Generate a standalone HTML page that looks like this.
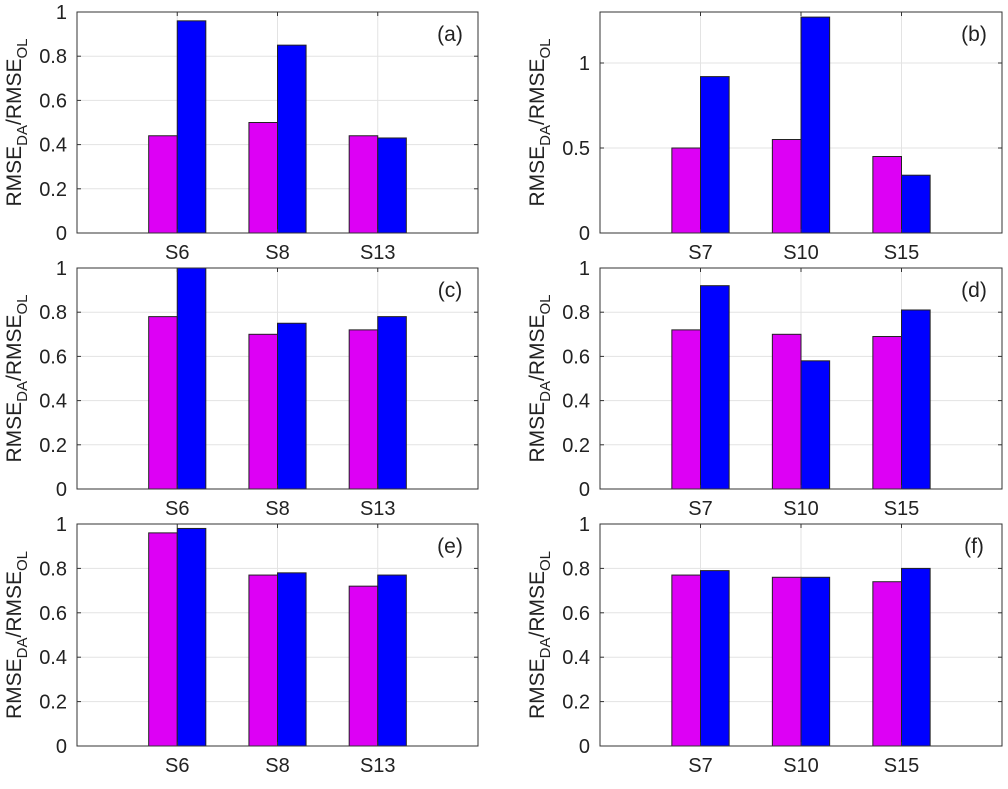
<!DOCTYPE html>
<html><head><meta charset="utf-8"><style>
html,body{margin:0;padding:0;background:#fff;}
svg text{font-family:"Liberation Sans",Arial,sans-serif;fill:#222;}
</style></head><body>
<svg id="fig" width="1008" height="784" xmlns="http://www.w3.org/2000/svg"></svg>
<script>
const catsLeft = ["S6","S8","S13"];
const catsRight = ["S7","S10","S15"];
const magA = [0.44,0.50,0.44], bluA = [0.96,0.85,0.43];
const magB = [0.50,0.55,0.45], bluB = [0.92,1.27,0.34];
const magC = [0.78,0.70,0.72], bluC = [1.00,0.75,0.78];
const magD = [0.72,0.70,0.69], bluD = [0.92,0.58,0.81];
const magE = [0.96,0.77,0.72], bluE = [0.98,0.78,0.77];
const magF = [0.77,0.76,0.74], bluF = [0.79,0.76,0.80];
const ticks1 = [0,0.2,0.4,0.6,0.8,1];
const ticksB = [0,0.5,1];
const tickLabels1 = ["0","0.2","0.4","0.6","0.8","1"];
const tickLabelsB = ["0","0.5","1"];

const NS="http://www.w3.org/2000/svg";
const svg=document.getElementById('fig');
function mk(tag,attrs,parent){const e=document.createElementNS(NS,tag);for(const k in attrs)e.setAttribute(k,attrs[k]);(parent||svg).appendChild(e);return e;}

const panels=[
 {id:'a',L:77,R:478,T:12,B:233,cats:catsLeft,m:magA,b:bluA,ymax:1,ticks:ticks1,tl:tickLabels1,lblX:30},
 {id:'b',L:600,R:1002,T:12,B:233,cats:catsRight,m:magB,b:bluB,ymax:1.3,ticks:ticksB,tl:tickLabelsB,lblX:553},
 {id:'c',L:77,R:478,T:268,B:489,cats:catsLeft,m:magC,b:bluC,ymax:1,ticks:ticks1,tl:tickLabels1,lblX:30},
 {id:'d',L:600,R:1002,T:268,B:489,cats:catsRight,m:magD,b:bluD,ymax:1,ticks:ticks1,tl:tickLabels1,lblX:553},
 {id:'e',L:77,R:478,T:524,B:746,cats:catsLeft,m:magE,b:bluE,ymax:1,ticks:ticks1,tl:tickLabels1,lblX:30},
 {id:'f',L:600,R:1002,T:524,B:746,cats:catsRight,m:magF,b:bluF,ymax:1,ticks:ticks1,tl:tickLabels1,lblX:553}
];

panels.forEach(p=>{
  const g=mk('g',{});
  
  
  const xs=v=>p.L+(p.R-p.L)*v/4;
  const ys=v=>p.B-(p.B-p.T)*v/p.ymax;
  p.ticks.forEach((t,i)=>{
    const y=ys(t);
    const gl=mk('line',{x1:p.L,x2:p.R,y1:y,y2:y,stroke:'#e3e3e3','stroke-width':1},g);
    
    
    mk('line',{x1:p.L,x2:p.L+4,y1:y,y2:y,stroke:'#333','stroke-width':1},g);
    mk('line',{x1:p.R,x2:p.R-4,y1:y,y2:y,stroke:'#333','stroke-width':1},g);
    const tx=mk('text',{x:p.L-10,y:y+7,'text-anchor':'end','font-size':20},g);
    tx.textContent=p.tl[i];
    
    
  });
  p.cats.forEach((c,i)=>{
    const x=xs(i+1);
    const gl=mk('line',{x1:x,x2:x,y1:p.T,y2:p.B,stroke:'#e3e3e3','stroke-width':1},g);
    
    
  });
  p.cats.forEach((c,i)=>{
    const x=xs(i+1), w=(p.R-p.L)/4*0.285;
    const vm=Math.min(p.m[i],p.ymax), vb=Math.min(p.b[i],p.ymax);
    const r1=mk('rect',{x:x-w,y:ys(vm),width:w,height:p.B-ys(vm),fill:'#dd00f5',stroke:'#222','stroke-width':1},g);
    
    
    const r2=mk('rect',{x:x,y:ys(vb),width:w,height:p.B-ys(vb),fill:'#0000ff',stroke:'#222','stroke-width':1},g);
    
    
    mk('line',{x1:x,x2:x,y1:p.B,y2:p.B-4,stroke:'#333'},g);
    mk('line',{x1:x,x2:x,y1:p.T,y2:p.T+4,stroke:'#333'},g);
    const tx=mk('text',{x:x,y:p.B+26,'text-anchor':'middle','font-size':20},g);
    tx.textContent=c;
    
    
  });
  const box=mk('rect',{x:p.L,y:p.T,width:p.R-p.L,height:p.B-p.T,fill:'none',stroke:'#333','stroke-width':1},g);
  
  
  const pl=mk('text',{x:p.R-28,y:p.T+29,'text-anchor':'middle','font-size':21},g);
  pl.textContent='('+p.id+')';
  
  
  const cy=(p.T+p.B)/2;
  const yl=mk('text',{x:0,y:0,'text-anchor':'middle','font-size':21,transform:`translate(${p.lblX-9},${cy}) rotate(-90)`},g);
  yl.innerHTML='RMSE<tspan font-size="15" dy="6">DA</tspan><tspan dy="-6">/RMSE</tspan><tspan font-size="15" dy="6">OL</tspan>';
  
  
});
</script>
</body></html>
